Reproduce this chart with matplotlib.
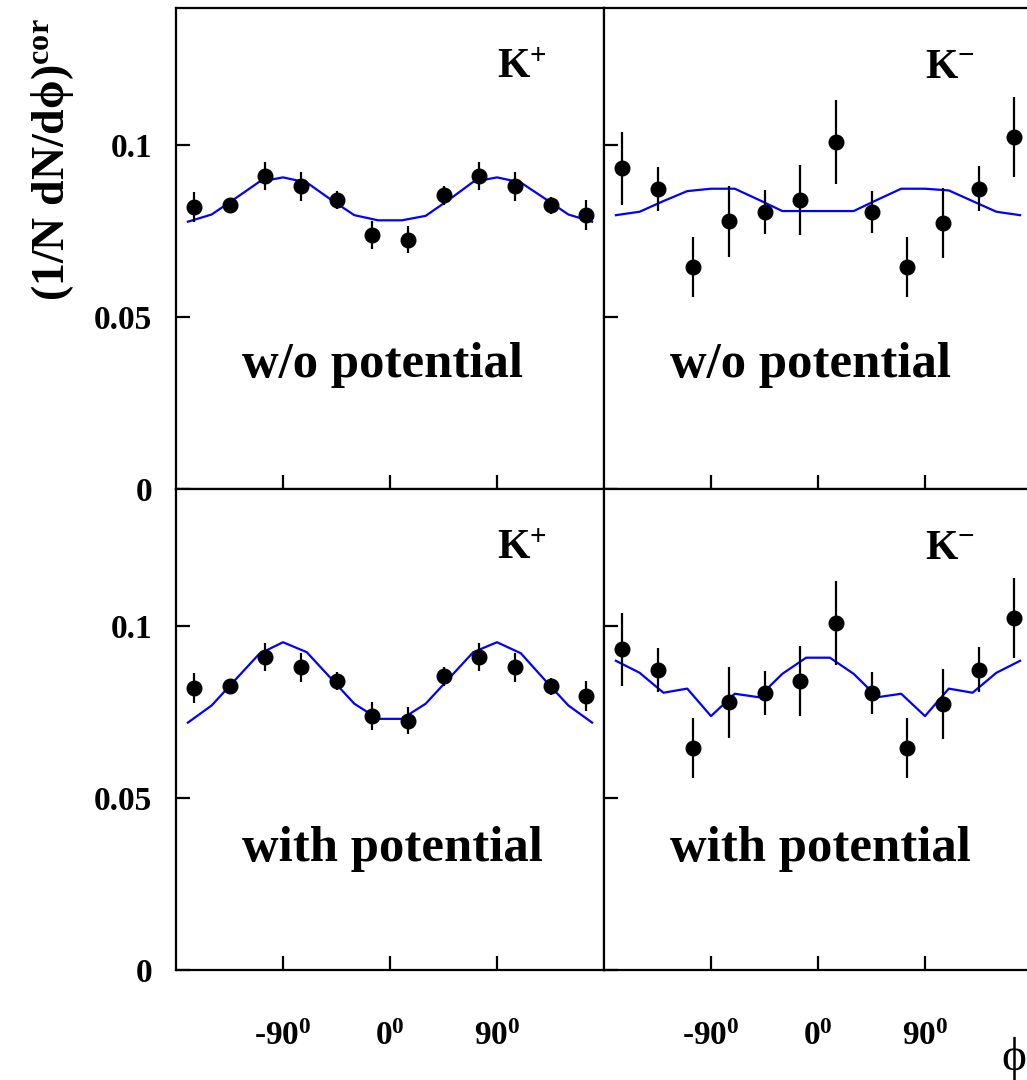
import numpy as np
import matplotlib
matplotlib.use("Agg")
from matplotlib import pyplot as plt

plt.rcParams['font.family'] = ['Liberation Serif', 'DejaVu Serif']
plt.rcParams['font.weight'] = 'bold'
plt.rcParams['mathtext.fontset'] = 'custom'
plt.rcParams['mathtext.rm'] = 'Liberation Serif:bold'
plt.rcParams['mathtext.it'] = 'Liberation Serif:bold'
plt.rcParams['mathtext.bf'] = 'Liberation Serif:bold'
plt.rcParams['mathtext.default'] = 'rm'

# Данные: точки эксперимента (шаг 30 градусов)
phi_pts = [-165, -135, -105, -75, -45, -15, 15, 45, 75, 105, 135, 165]
kp_y = [0.0821, 0.0828, 0.0911, 0.0881, 0.0841, 0.0739, 0.0726, 0.0855, 0.0911, 0.0881, 0.0826, 0.0798]
kp_err = [0.0044, 0.0020, 0.0042, 0.0043, 0.0025, 0.0041, 0.0039, 0.0027, 0.0042, 0.0043, 0.0025, 0.0043]
km_y = [0.0933, 0.0873, 0.0647, 0.0779, 0.0806, 0.0842, 0.1010, 0.0806, 0.0647, 0.0773, 0.0874, 0.1025]
km_err = [0.0107, 0.0065, 0.0087, 0.0103, 0.0065, 0.0102, 0.0122, 0.0062, 0.0087, 0.0102, 0.0065, 0.0116]

# Модельные кривые (шаг 20 градусов)
phi_th = [-170, -150, -130, -110, -90, -70, -50, -30, -10, 10, 30, 50, 70, 90, 110, 130, 150, 170]
kp_nopot = [0.0778, 0.0799, 0.0846, 0.0894, 0.0907, 0.0892, 0.0843, 0.0797, 0.0782,
            0.0782, 0.0795, 0.0843, 0.0894, 0.0907, 0.0892, 0.0846, 0.0799, 0.0778]
km_nopot = [0.0797, 0.0807, 0.0838, 0.0867, 0.0874, 0.0874, 0.0842, 0.0809, 0.0809,
            0.0809, 0.0809, 0.0842, 0.0874, 0.0874, 0.0869, 0.0838, 0.0807, 0.0797]
kp_pot = [0.0720, 0.0770, 0.0845, 0.0920, 0.0954, 0.0925, 0.0850, 0.0775, 0.0731,
          0.0731, 0.0775, 0.0850, 0.0925, 0.0954, 0.0922, 0.0845, 0.0770, 0.0720]
km_pot = [0.0900, 0.0865, 0.0807, 0.0819, 0.0739, 0.0804, 0.0794, 0.0862, 0.0909,
          0.0909, 0.0862, 0.0794, 0.0804, 0.0739, 0.0819, 0.0807, 0.0865, 0.0900]

x_ticks = [-90, 0, 90]
x_ticklabels = ['-90$^{0}$', '0$^{0}$', '90$^{0}$']
y_ticks = [0, 0.05, 0.1]
y_ticklabels = ['0', '0.05', '0.1']

fig = plt.figure(figsize=(10.27, 10.80), dpi=100)

W, H = 1027, 1080
left_x = [176, 604]
top_y = [8, 489]
pw = 428
ph = 481

panels = [
    # (строка, столбец, точки, ошибки, кривая, частица, подпись)
    (0, 0, kp_y, kp_err, kp_nopot, 'K$^{+}$', 'w/o potential'),
    (0, 1, km_y, km_err, km_nopot, 'K$^{-}$', 'w/o potential'),
    (1, 0, kp_y, kp_err, kp_pot, 'K$^{+}$', 'with potential'),
    (1, 1, km_y, km_err, km_pot, 'K$^{-}$', 'with potential'),
]

for row, col, yv, ye, th, part, label in panels:
    x0 = left_x[col] / W
    y0 = 1 - (top_y[row] + ph) / H
    ax = fig.add_axes([x0, y0, pw / W, ph / H])
    ax.set_xlim(-180, 180)
    ax.set_ylim(0, 0.14)

    ax.plot(phi_th, th, color='#0000ff', lw=1.6, zorder=2)
    ax.errorbar(phi_pts, yv, yerr=ye, fmt='o', color='black', ms=10.5,
                elinewidth=1.6, capsize=0, zorder=3)

    for s in ax.spines.values():
        s.set_linewidth(1.6)
    ax.tick_params(direction='in', length=10, width=1.6, top=False, right=False,
                   labelsize=24, pad=17)
    ax.set_xticks(x_ticks)
    ax.set_yticks(y_ticks)
    if row == 1:
        ax.set_xticklabels(x_ticklabels)
        ax.tick_params(axis='x', pad=37)
    else:
        ax.set_xticklabels([])
    if col == 0:
        ax.set_yticklabels(y_ticklabels)
    else:
        ax.set_yticklabels([])

    ax.text(0.75, 0.855, part, transform=ax.transAxes, fontsize=30,
            fontweight='bold', ha='left', va='baseline')
    ty = 0.233 if row == 0 else 0.227
    tx = 0.4825 if row == 0 else 0.505
    ax.text(tx, ty, label, transform=ax.transAxes, fontsize=36.5,
            fontweight='bold', ha='center', va='baseline')

fig.text(52 / W, 1 - 160 / H, '(1/N dN/d\u03d5)$^{cor}$', rotation=90,
         fontsize=33, fontweight='bold', ha='center', va='center')
# в оригинале символ обрезан краем, здесь прижимаем к краю
fig.text(1026 / W, 1 - 1058 / H, '\u03d5', fontsize=34, fontweight='normal',
         ha='right', va='center')

fig.savefig('out.png', dpi=100)
